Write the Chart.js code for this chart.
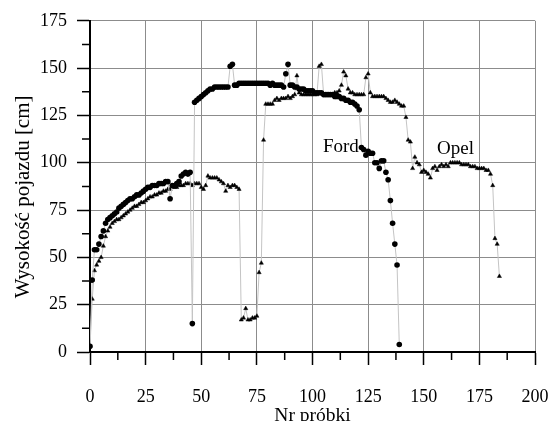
<!DOCTYPE html>
<html>
<head>
<meta charset="utf-8">
<script src="https://cdn.jsdelivr.net/npm/chart.js@4"></script>
<style>
  body { margin: 0; background: #fff; overflow: hidden; }
  canvas { display: block; }
</style>
</head>
<body>
<canvas id="myChart" width="554" height="421"></canvas>
<script>
// wysokosc pojazdu dla kolejnych probek (indeks = nr probki)
const fordH = [
  3, 38, 54, 54, 57, 61, 64, 68, 70, 71,
  72, 73, 74, 76, 77, 78, 79, 80, 81, 81,
  82, 83, 83, 84, 85, 86, 87, 87, 88, 88,
  88, 89, 89, 89, 90, 90, 81, 88, 88, 89,
  90, 93, 94, 95, 94, 95, 15, 132, 133, 134,
  135, 136, 137, 138, 139, 139, 140, 140, 140, 140,
  140, 140, 140, 151, 152, 141, 141, 142, 142, 142,
  142, 142, 142, 142, 142, 142, 142, 142, 142, 142,
  142, 141, 142, 141, 141, 141, 141, 140, 147, 152,
  141, 141, 140, 140, 139, 139, 139, 138, 138, 138,
  138, 137, 137, 137, 137, 136, 136, 136, 136, 136,
  135, 135, 135, 134, 134, 133, 133, 132, 132, 131,
  130, 128, 108, 107, 104, 106, 105, 105, 100, 100,
  97, 101, 101, 95, 91, 80, 68, 57, 46, 4
];
const opelH = [
  3, 28, 43, 46, 48, 50, 56, 61, 64, 66,
  68, 69, 70, 70, 71, 72, 73, 74, 75, 76,
  77, 77, 78, 79, 79, 80, 81, 82, 82, 83,
  83, 84, 84, 85, 85, 86, 86, 87, 87, 87,
  88, 88, 88, 89, 89, 89, 88, 89, 89, 89,
  87, 86, 88, 93, 92, 92, 92, 92, 91, 90,
  89, 85, 88, 87, 88, 88, 87, 86, 17, 18,
  23, 17, 17, 18, 18, 19, 42, 47, 112, 131,
  131, 131, 131, 133, 134, 133, 134, 134, 134, 135,
  134, 135, 136, 146, 137, 136, 136, 136, 136, 136,
  136, 136, 136, 151, 152, 136, 136, 136, 136, 136,
  137, 137, 138, 141, 148, 146, 139, 137, 137, 136,
  136, 136, 136, 136, 145, 147, 137, 135, 135, 135,
  135, 135, 135, 134, 133, 132, 132, 133, 132, 131,
  130, 130, 124, 112, 111, 97, 103, 100, 99, 95,
  96, 95, 94, 92, 97, 98, 96, 98, 99, 98,
  99, 98, 100, 100, 100, 100, 100, 99, 99, 99,
  99, 98, 98, 98, 97, 97, 97, 97, 96, 96,
  94, 88, 60, 57, 40
];
const xTicks = [0, 25, 50, 75, 100, 125, 150, 175, 200];
const yTicks = [0, 25, 50, 75, 100, 125, 150, 175];
const seriesNames = ['Ford', 'Opel'];
// gdzie stoja podpisy serii (nr probki, wysokosc linii bazowej)
const nameAt = [[104.7, 105.8], [156, 104.8]];

const serif = '"Liberation Serif", "Times New Roman", serif';

function toPoints(arr) {
  return arr.map((v, i) => ({ x: i, y: v }));
}

const minorTicks = {
  id: 'minorTicks',
  afterDraw(chart) {
    const { ctx, scales: { x, y } } = chart;
    ctx.save();
    ctx.strokeStyle = '#000';
    ctx.lineWidth = 1.5;
    ctx.beginPath();
    for (let i = 0; i < xTicks.length - 1; i++) {
      const px = x.getPixelForValue((xTicks[i] + xTicks[i + 1]) / 2);
      ctx.moveTo(px, x.top);
      ctx.lineTo(px, x.top + 8);
    }
    for (let i = 0; i < yTicks.length - 1; i++) {
      const py = y.getPixelForValue((yTicks[i] + yTicks[i + 1]) / 2);
      ctx.moveTo(y.right, py);
      ctx.lineTo(y.right - 8, py);
    }
    ctx.stroke();
    ctx.restore();
  }
};

const seriesLabels = {
  id: 'seriesLabels',
  afterDatasetsDraw(chart) {
    const { ctx, scales: { x, y } } = chart;
    ctx.save();
    ctx.font = '19px ' + serif;
    ctx.fillStyle = '#000';
    ctx.textAlign = 'left';
    ctx.textBaseline = 'alphabetic';
    seriesNames.forEach((name, i) => {
      ctx.fillText(name, x.getPixelForValue(nameAt[i][0]), y.getPixelForValue(nameAt[i][1]));
    });
    ctx.restore();
  }
};

const data = {
  datasets: [
    {
      label: seriesNames[0],
      data: toPoints(fordH),
      showLine: true,
      borderColor: '#c4c4c4',
      borderWidth: 1,
      pointStyle: 'circle',
      pointRadius: 2.8,
      pointBackgroundColor: '#000',
      pointBorderWidth: 0,
      pointHoverRadius: 2.8
    },
    {
      label: seriesNames[1],
      data: toPoints(opelH),
      showLine: true,
      borderColor: '#c4c4c4',
      borderWidth: 1,
      pointStyle: 'triangle',
      pointRadius: 2.4,
      pointBackgroundColor: '#000',
      pointBorderColor: '#000',
      pointBorderWidth: 0.5,
      pointHoverRadius: 2.4
    }
  ]
};

const config = {
  type: 'scatter',
  data: data,
  options: {
    responsive: false,
    animation: false,
    events: [],
    layout: { padding: { top: 18, right: 19, left: 0, bottom: 0 } },
    plugins: {
      legend: { display: false },
      tooltip: { enabled: false }
    },
    scales: {
      x: {
        type: 'linear',
        min: 0,
        max: 200,
        afterFit: (s) => {
          s.height = 69;
          s.paddingLeft = 0;
          s.paddingRight = 0;
        },
        afterBuildTicks: (s) => { s.ticks = xTicks.map(v => ({ value: v })); },
        ticks: {
          color: '#000',
          font: { family: serif, size: 18 },
          padding: 21,
          maxRotation: 0
        },
        grid: {
          color: '#8c8c8c',
          lineWidth: 1,
          tickColor: '#000',
          tickLength: 13,
          tickWidth: 1.5
        },
        border: { color: '#000', width: 2 },
        title: {
          display: true,
          text: 'Nr próbki',
          color: '#000',
          font: { family: serif, size: 19.5 },
          padding: { top: 0, bottom: -7 }
        }
      },
      y: {
        type: 'linear',
        min: 0,
        max: 175,
        afterFit: (s) => { s.width = 90; },
        afterBuildTicks: (s) => { s.ticks = yTicks.map(v => ({ value: v })); },
        ticks: {
          color: '#000',
          font: { family: serif, size: 18 },
          padding: 10
        },
        grid: {
          color: '#8c8c8c',
          lineWidth: 1,
          tickColor: '#000',
          tickLength: 13,
          tickWidth: 1.5
        },
        border: { color: '#000', width: 2 },
        title: {
          display: true,
          text: 'Wysokość pojazdu [cm]\u00a0\u00a0\u00a0\u00a0',
          color: '#000',
          font: { family: serif, size: 21 },
          padding: { top: 11, bottom: 0 }
        }
      }
    }
  },
  plugins: [minorTicks, seriesLabels]
};

new Chart(document.getElementById('myChart'), config);
</script>
</body>
</html>
